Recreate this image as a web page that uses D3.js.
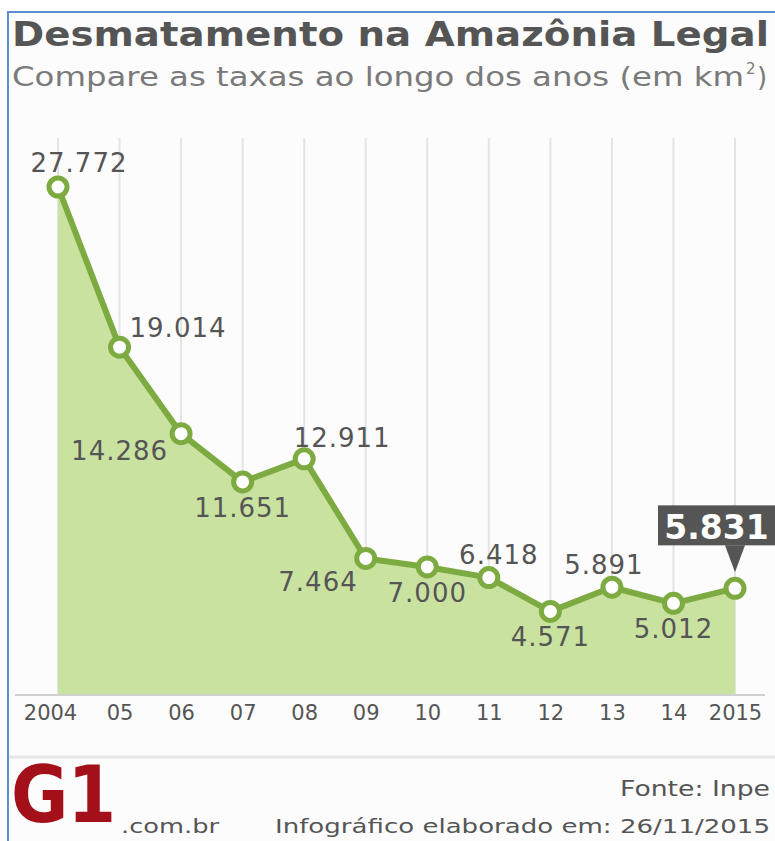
<!DOCTYPE html>
<html>
<head>
<meta charset="utf-8">
<script src="https://cdn.jsdelivr.net/npm/d3@7"></script>
<style>
  body { margin: 0; background: #fff; }
  svg { display: block; }
</style>
</head>
<body>
<div id="chart"></div>
<script>
// data read from the infographic
var years = [2004, 2005, 2006, 2007, 2008, 2009, 2010, 2011, 2012, 2013, 2014, 2015];
var tickLabels = ["2004", "05", "06", "07", "08", "09", "10", "11", "12", "13", "14", "2015"];
var rates = [27772, 19014, 14286, 11651, 12911, 7464, 7000, 6418, 4571, 5891, 5012, 5831];
// where each value label sits relative to its point
var labelPlace = ["top", "right", "left", "bottom", "topright", "bottomleft", "bottom", "topright2", "bottom", "topleft", "bottom", "box"];

var width = 775, height = 841;
var green = "#7dab41", fillGreen = "#c9e2a0", grey = "#555";
var font = "'DejaVu Sans', Verdana, sans-serif";

var svg = d3.select("#chart").append("svg")
    .attr("width", width)
    .attr("height", height);

// background + frame
svg.append("rect").attr("x", 0).attr("y", 0).attr("width", width).attr("height", height).style("fill", "#fff");
svg.append("rect").attr("x", 8).attr("y", 12).attr("width", width).attr("height", height)
    .style("fill", "#fcfcfc").style("stroke", "#5b8fd0").style("stroke-width", 2);

svg.append("text").attr("x", 12).attr("y", 46)
    .attr("textLength", 757).attr("lengthAdjust", "spacingAndGlyphs")
    .style("font-family", font).style("font-weight", "bold").style("font-size", "34px")
    .style("fill", grey).text("Desmatamento na Amazônia Legal");

svg.append("text").attr("x", 12).attr("y", 86)
    .attr("textLength", 732).attr("lengthAdjust", "spacingAndGlyphs")
    .style("font-family", font).style("font-size", "26px")
    .style("fill", "#7a7a7a").text("Compare as taxas ao longo dos anos (em km");
svg.append("text").attr("x", 746).attr("y", 74)
    .style("font-family", font).style("font-size", "15px").style("fill", "#7a7a7a").text("2");
svg.append("text").attr("x", 757).attr("y", 86)
    .style("font-family", font).style("font-size", "26px").style("fill", "#7a7a7a").text(")");

var x = d3.scalePoint().domain(years).range([58, 735]);
var y = d3.scaleLinear().domain([0, 27772]).range([695, 187]);

// vertical grid lines
svg.append("g").selectAll("line").data(years).enter().append("line")
    .attr("x1", function(d) { return x(d); })
    .attr("x2", function(d) { return x(d); })
    .attr("y1", 138).attr("y2", y(0))
    .style("stroke", "#e4e4e4").style("stroke-width", 2);

var area = d3.area()
    .x(function(d, i) { return x(years[i]); })
    .y0(y(0))
    .y1(function(d) { return y(d); });

svg.append("path").datum(rates).attr("d", area).style("fill", fillGreen);

// axis
var xAxis = svg.append("g").attr("transform", "translate(0," + y(0) + ")")
    .call(d3.axisBottom(x).tickSize(0).tickPadding(10).tickFormat(function(d, i) { return tickLabels[i]; }));
xAxis.select(".domain").attr("d", "M15,0H765").style("stroke", "#d0d0d0").style("stroke-width", 2);
xAxis.selectAll("text").style("font-family", font).style("font-size", "21px").style("fill", grey)
    .attr("dy", "0.72em");
xAxis.selectAll(".tick").filter(function(d) { return d === 2004; }).select("text").attr("x", -8);

var line = d3.line()
    .x(function(d, i) { return x(years[i]); })
    .y(function(d) { return y(d); });

svg.append("path").datum(rates).attr("d", line)
    .style("fill", "none").style("stroke", green).style("stroke-width", 6)
    .style("stroke-linejoin", "round");

svg.append("g").selectAll("circle").data(rates).enter().append("circle")
    .attr("cx", function(d, i) { return x(years[i]); })
    .attr("cy", function(d) { return y(d); })
    .attr("r", 9)
    .style("fill", "#fff").style("stroke", green).style("stroke-width", 5);

var fmt = d3.formatLocale({ decimal: ",", thousands: ".", grouping: [3], currency: ["", ""] }).format(",");

var offsets = {
    top: [21, -15, "middle"],
    right: [10, -10, "start"],
    left: [-13, 26, "end"],
    bottom: [0, 35, "middle"],
    topright: [38, -12, "middle"],
    bottomleft: [-8, 33, "end"],
    topright2: [10, -14, "middle"],
    topleft: [-8, -13, "middle"]
};

rates.forEach(function(v, i) {
    var cx = x(years[i]), cy = y(v);
    var place = labelPlace[i];
    if (place === "box") {
        var bx = 658, by = cy - 83, bw = width - bx, bh = 40;
        svg.append("rect").attr("x", bx).attr("y", by).attr("width", bw).attr("height", bh)
            .style("fill", "#555");
        svg.append("path")
            .attr("d", "M" + (cx - 10) + "," + (by + bh) + "L" + (cx + 10) + "," + (by + bh) + "L" + cx + "," + (cy - 16) + "Z")
            .style("fill", "#555");
        svg.append("text").attr("x", bx + bw / 2).attr("y", by + 34)
            .attr("text-anchor", "middle")
            .style("font-family", font).style("font-weight", "bold").style("font-size", "33px")
            .style("fill", "#fff").text(fmt(v));
        return;
    }
    var o = offsets[place];
    svg.append("text").attr("x", cx + o[0]).attr("y", cy + o[1])
        .attr("text-anchor", o[2])
        .style("font-family", font).style("font-size", "26px").style("letter-spacing", "1px")
        .style("fill", grey)
        .text(fmt(v));
});

// footer
svg.append("line").attr("x1", 9).attr("x2", width).attr("y1", 757).attr("y2", 757)
    .style("stroke", "#e6e6e6").style("stroke-width", 3);

svg.append("text").attr("x", 620).attr("y", 796)
    .attr("textLength", 150).attr("lengthAdjust", "spacingAndGlyphs")
    .style("font-family", font).style("font-size", "21px").style("fill", grey)
    .text("Fonte: Inpe");
svg.append("text").attr("x", 275).attr("y", 833)
    .attr("textLength", 495).attr("lengthAdjust", "spacingAndGlyphs")
    .style("font-family", font).style("font-size", "20px").style("fill", grey)
    .text("Infográfico elaborado em: 26/11/2015");

// G1 logo
svg.append("text")
    .attr("transform", "translate(11,822) scale(1,1.12)")
    .style("font-family", font).style("font-weight", "bold").style("font-size", "70px")
    .style("letter-spacing", "-1px")
    .style("fill", "#a3101a").text("G1");
svg.append("text").attr("x", 121).attr("y", 833)
    .attr("textLength", 98).attr("lengthAdjust", "spacingAndGlyphs")
    .style("font-family", font).style("font-size", "20px").style("fill", grey).text(".com.br");
</script>
</body>
</html>
